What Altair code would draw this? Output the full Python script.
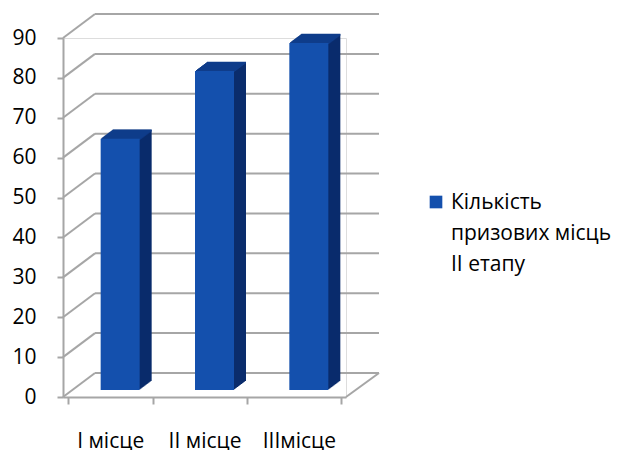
import altair as alt
import pandas as pd

# ---- data ----
categories = ["І місце", "ІІ місце", "ІІІмісце"]
values = [63, 80, 87]
series_name = ["Кількість", "призових місць", "ІІ етапу"]
grid_values = [0, 10, 20, 30, 40, 50, 60, 70, 80, 90]

bars_df = pd.DataFrame({"cat": categories, "value": values})
grid_df = pd.DataFrame({"v": grid_values})
floor_df = pd.DataFrame({"v": [grid_values[0]]})
legend_df = pd.DataFrame({"label": ["\n".join(series_name)]})

# ---- style ----
FONT = "Open Sans"
GRID = "#a6a6a6"
FRONT = "#1450ad"
SIDE = "#0a2c6c"
TOP = "#0f3c8a"
W, H = 283, 359
DEPTH_X, DEPTH_Y = 32, 24       # wall depth
BAR_X, BAR_Y = 10, 7            # bar front-face offset into depth
BDX, BDY = 12, 9                # bar depth
BAR_W = 39
STEPS = 12

yscale = alt.Scale(domain=[0, 90], nice=False, zero=True)
xscale = alt.Scale(domain=categories)


def Y(field):
    return alt.Y(field, scale=yscale, axis=alt.Axis(
        values=grid_values, title=None, grid=False, domainColor=GRID, domainWidth=2,
        tickColor=GRID, tickWidth=2, tickSize=6, labelPadding=21,
        labelFontSize=21, labelColor="#000", labelFont=FONT))


X = alt.X("cat:N", sort=categories, scale=xscale, axis=alt.Axis(
    title=None, labelAngle=0, tickBand="extent", domainColor=GRID, domainWidth=2,
    tickColor=GRID, tickWidth=2, tickSize=7, labelPadding=26, labelFontSize=21,
    labelColor="#000", labelFont=FONT, grid=False))

layers = []

# side wall diagonals
layers.append(alt.Chart(grid_df).mark_rule(color=GRID, strokeWidth=2, y2Offset=-DEPTH_Y).encode(
    y=Y("v:Q"), y2="v", x=alt.value(0), x2=alt.value(DEPTH_X)))
# back wall horizontals
layers.append(alt.Chart(grid_df).mark_rule(color=GRID, strokeWidth=2, yOffset=-DEPTH_Y).encode(
    y=Y("v:Q"), x=alt.value(DEPTH_X), x2=alt.value(W + 33)))
# right floor diagonal
layers.append(alt.Chart(floor_df).mark_rule(color=GRID, strokeWidth=2, y2Offset=-DEPTH_Y).encode(
    y=Y("v:Q"), y2="v", x=alt.value(W), x2=alt.value(W + 33)))

# bar depth (side faces), back to front
for k in range(STEPS, 0, -1):
    dx = BAR_X + BDX * k / STEPS
    dy = -BAR_Y - BDY * k / STEPS
    layers.append(alt.Chart(bars_df).mark_bar(size=BAR_W, color=SIDE, xOffset=dx, yOffset=dy).encode(
        x=X, y=Y("value:Q")))
# top faces
for k in range(STEPS, 0, -1):
    dx = BAR_X + BDX * k / STEPS
    dy = -BAR_Y - BDY * k / STEPS + 0.8
    layers.append(alt.Chart(bars_df).mark_tick(size=BAR_W, thickness=1.8, color=TOP, opacity=1,
                                               xOffset=dx, yOffset=dy).encode(
        x=X, y=Y("value:Q")))
# front faces
layers.append(alt.Chart(bars_df).mark_bar(size=BAR_W, color=FRONT, xOffset=BAR_X, yOffset=-BAR_Y).encode(
    x=X, y=Y("value:Q")))

# legend
layers.append(alt.Chart(legend_df).mark_square(size=160, color=FRONT, opacity=1, filled=True).encode(
    x=alt.value(373), y=alt.value(164)))
layers.append(alt.Chart(legend_df).mark_text(
    align="left", baseline="alphabetic", lineBreak="\n", lineHeight=31,
    font=FONT, fontSize=21, color="#000").encode(
    x=alt.value(388), y=alt.value(171), text="label:N"))

chart = alt.layer(*layers).properties(
    width=W, height=H, autosize="none",
    padding={"left": 55, "top": 30, "right": 270, "bottom": 60},
).configure_view(stroke=None).configure(font=FONT)

chart.save("out.html", embed_options={"renderer": "svg", "actions": False})
